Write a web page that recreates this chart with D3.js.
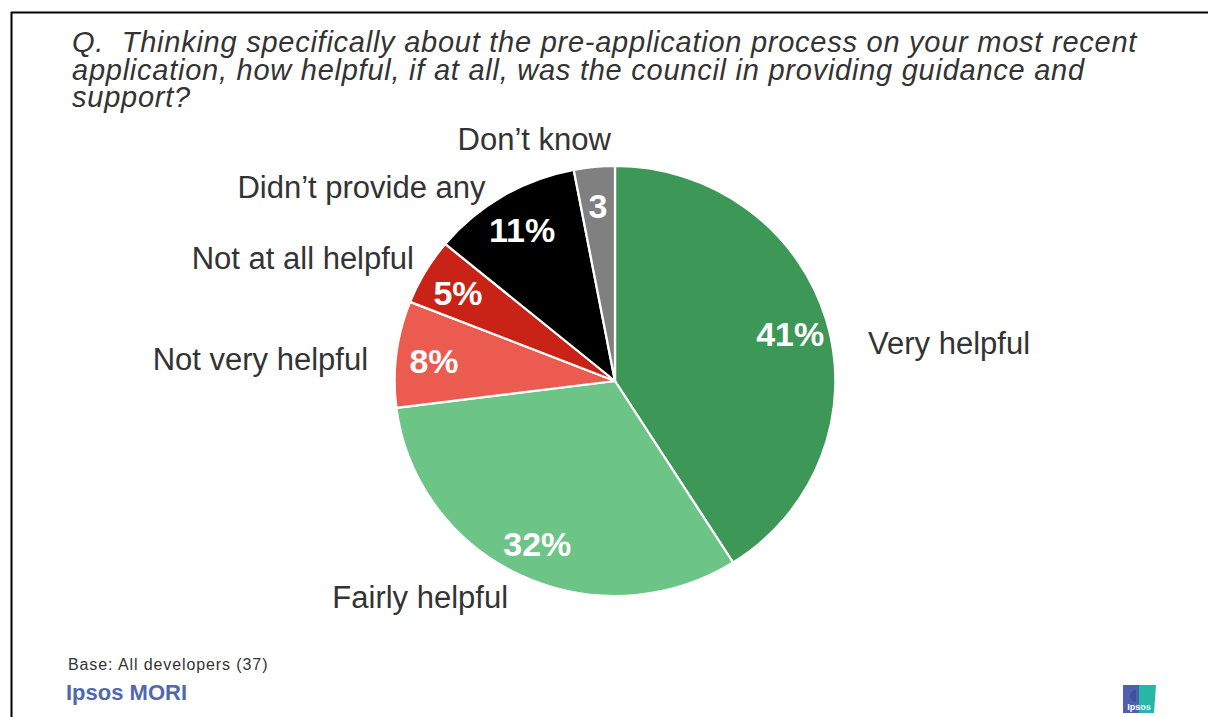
<!DOCTYPE html>
<html>
<head>
<meta charset="utf-8">
<script src="https://cdn.jsdelivr.net/npm/d3@7"></script>
<style>
  html, body { margin: 0; padding: 0; background: #fff; }
  svg { display: block; }
  text { font-family: "Liberation Sans", Arial, sans-serif; }
</style>
</head>
<body>
<svg id="chart" width="1208" height="717"></svg>
<script>
// ---- Data ----
const categories = ["Very helpful", "Fairly helpful", "Not very helpful", "Not at all helpful", "Didn’t provide any", "Don’t know"];
const values = [41, 32, 8, 5, 11, 3];
const valueLabels = ["41%", "32%", "8%", "5%", "11%", "3"];
const colors = ["#3d9756", "#6cc586", "#eb5b50", "#c92317", "#000000", "#808080"];
const titleLines = [
  "Q.\u00A0\u00A0Thinking specifically about the pre-application process on your most recent",
  "application, how helpful, if at all, was the council in providing guidance and",
  "support?"
];
const baseNote = "Base: All developers (37)";
const brand = "Ipsos MORI";

// ---- Layout ----
const W = 1208, H = 717;
const cx = 615, cy = 381, R = 215;
const sx = 1.025; // slight horizontal stretch of the pie as in the slide
const labelLayout = [
  { r: 256, dAng: 7.5, anchor: "start" },
  { r: 290, dAng: 17, anchor: "middle" },
  { r: 248, dAng: -2, anchor: "end" },
  { r: 236, dAng: 1, anchor: "end" },
  { r: 234, dAng: -3, anchor: "end" },
  { r: 256, dAng: -13, anchor: "middle" }
];

const svg = d3.select("#chart");

// frame lines (top and left)
svg.append("line").attr("x1", 11).attr("x2", W).attr("y1", 12.5).attr("y2", 12.5)
  .attr("stroke", "#000").attr("stroke-width", 2);
svg.append("line").attr("x1", 11.5).attr("x2", 11.5).attr("y1", 12).attr("y2", H)
  .attr("stroke", "#000").attr("stroke-width", 2);

// title
const title = svg.append("text")
  .attr("x", 72).attr("y", 52)
  .attr("font-size", 29).attr("letter-spacing", 0.75)
  .attr("font-style", "italic").attr("fill", "#333");
title.selectAll("tspan").data(titleLines).join("tspan")
  .attr("x", 72).attr("dy", (d, i) => i === 0 ? 0 : 27.5)
  .text(d => d);

// pie
const pie = d3.pie().sort(null).value(d => d)(values);
const arc = d3.arc().innerRadius(0).outerRadius(R);
const labelArc = d3.arc().innerRadius(178).outerRadius(178);

const g = svg.append("g").attr("transform", `translate(${cx},${cy})`);
g.append("g").attr("transform", `scale(${sx},1)`)
  .selectAll("path.slice").data(pie).join("path")
  .attr("class", "slice")
  .attr("d", arc)
  .attr("fill", (d, i) => colors[i])
  .attr("stroke", "#fff").attr("stroke-width", 2.2).attr("stroke-linejoin", "round");

// value labels
g.selectAll("text.val").data(pie).join("text")
  .attr("class", "val")
  .attr("transform", d => { const c = labelArc.centroid(d); return `translate(${c[0] * sx},${c[1]})`; })
  .attr("text-anchor", "middle").attr("dy", "0.42em")
  .attr("font-size", 34).attr("font-weight", "bold").attr("fill", "#fff")
  .text((d, i) => valueLabels[i]);

// category labels
g.selectAll("text.cat").data(pie).join("text")
  .attr("class", "cat")
  .each(function (d, i) {
    const L = labelLayout[i];
    const a = (d.startAngle + d.endAngle) / 2 + L.dAng * Math.PI / 180;
    d3.select(this)
      .attr("x", L.r * Math.sin(a))
      .attr("y", -L.r * Math.cos(a))
      .attr("text-anchor", L.anchor)
      .attr("dy", "0.38em");
  })
  .attr("font-size", 31).attr("fill", "#333")
  .text((d, i) => categories[i]);

// footer
svg.append("text").attr("x", 68).attr("y", 670)
  .attr("font-size", 16).attr("letter-spacing", 0.9).attr("fill", "#333").text(baseNote);
svg.append("text").attr("x", 66).attr("y", 700)
  .attr("font-size", 22).attr("font-weight", "bold").attr("fill", "#4f68ae").text(brand);

// Ipsos logo
const logo = svg.append("g").attr("transform", "translate(1123,685)");
logo.append("rect").attr("width", 16).attr("height", 28).attr("fill", "#4e5fac");
logo.append("path").attr("d", "M16,0 L33,0 L31,28 L16,28 Z").attr("fill", "#27b7a6");
logo.append("path").attr("d", "M13,5 a6,6 0 0 0 0,12 Z").attr("fill", "#3d4f9e");
logo.append("text").attr("x", 16).attr("y", 25).attr("text-anchor", "middle")
  .attr("font-size", 9).attr("font-weight", "bold").attr("fill", "#fff").text("Ipsos");
</script>
</body>
</html>
